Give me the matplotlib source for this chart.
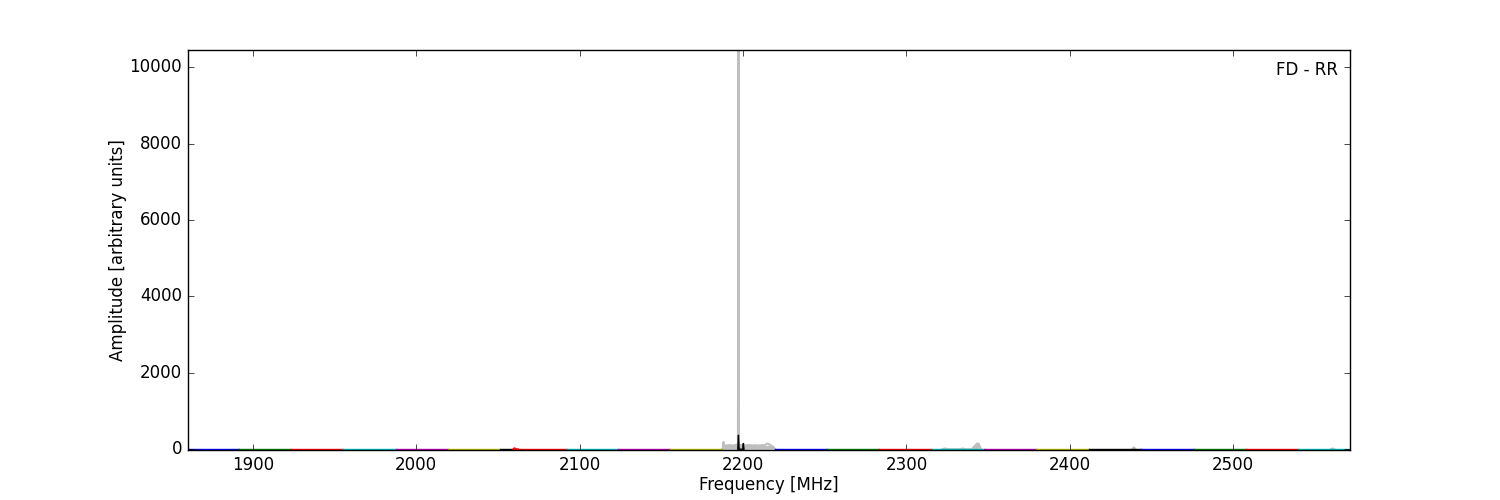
import matplotlib
matplotlib.use("Agg")
import matplotlib.pyplot as plt

plt.style.use("classic")

# Band edges (MHz) and colours of the individual sub-band spectra
band_edges = [1859.8, 1891.4, 1923.5, 1955.1, 1987.4, 2019.5, 2051.2, 2059.3,
              2092.0, 2123.7, 2155.3, 2187.0, 2219.7, 2251.3, 2283.0, 2315.7,
              2347.3, 2379.6, 2411.6, 2443.3, 2476.0, 2507.7, 2539.7, 2571.3]
band_colors = ["b", "g", "r", "c", "m", "y", "k", "r", "c", "m", "y", "k",
               "b", "g", "r", "c", "m", "y", "k", "b", "g", "r", "c"]

# Approximate baseline amplitude per band (read as ~flat near zero)
band_levels = [3, 3, 4, 3, 3, 4, 3, 5, 3, 3, 4, 0, 3, 3, 4, 3, 3, 4, 3, 3, 3, 4, 3]

# Spikes in the 2187-2220 MHz (black) band
k_spike_freq = [2196.8, 2197.2, 2197.6, 2199.8, 2200.2, 2200.6]
k_spike_amp = [0, 366, 0, 0, 150, 0]

# Small red bump near start of red band
r_bump_freq = [2059.3, 2059.8, 2060.3, 2061.0, 2062.5]
r_bump_amp = [3, 25, 35, 10, 3]

# Grey (raw) spectrum features
gray_freq = [2187.0, 2187.6, 2188.0, 2188.4, 2189.0, 2190.5, 2192.0, 2193.5,
             2195.0, 2196.5, 2196.9, 2197.2, 2197.5, 2198.0, 2199.0, 2200.5,
             2202.0, 2203.5, 2205.5, 2207.5, 2209.5, 2211.5, 2213.0, 2214.2,
             2215.2, 2216.2, 2217.2, 2218.5, 2219.7]
gray_amp = [0, 20, 190, 60, 95, 100, 110, 95,
            105, 120, 160, 11000, 150, 110, 100, 125,
            95, 110, 100, 105, 95, 110, 100, 130,
            150, 120, 100, 60, 0]

gray2_freq = [2322.0, 2323.5, 2325.0, 2333.0, 2334.5, 2336.0, 2340.0, 2341.2,
              2342.2, 2343.3, 2344.3, 2345.0, 2345.8]
gray2_amp = [0, 20, 0, 0, 20, 0, 0, 60, 100, 150, 140, 60, 0]

gray3_freq = [2438.2, 2439.2, 2440.2]
gray3_amp = [0, 50, 0]

gray4_freq = [2559.8, 2560.8, 2561.8]
gray4_amp = [0, 20, 0]

fig = plt.figure(figsize=(15, 5), dpi=100)
ax = fig.add_subplot(111)

gray_col = "#bebebe"
ax.fill_between(gray_freq, 0, [min(a, 100) for a in gray_amp],
                color=gray_col, lw=0, zorder=1)
for fr, am in [(gray_freq, gray_amp), (gray2_freq, gray2_amp),
               (gray3_freq, gray3_amp), (gray4_freq, gray4_amp)]:
    ax.plot(fr, am, color=gray_col, lw=1.5, zorder=1)
ax.fill_between(gray2_freq, 0, gray2_amp, color=gray_col, lw=0, zorder=1)

for i, c in enumerate(band_colors):
    if i == 11:
        continue
    f0, f1 = band_edges[i], band_edges[i + 1]
    lvl = band_levels[i]
    ax.plot([f0, f1], [lvl, lvl], color=c, lw=1.0, zorder=2)

ax.plot(r_bump_freq, r_bump_amp, color="r", lw=1.0, zorder=2)
ax.plot(k_spike_freq, k_spike_amp, color="k", lw=1.0, zorder=3)

ax.set_xlim(1860.0, 2571.5)
ax.set_ylim(-20, 10450)
ax.set_xlabel("Frequency [MHz]", labelpad=1.5)
ax.set_ylabel("Amplitude [arbitrary units]", labelpad=2)
ax.text(0.990, 0.95, "FD - RR", ha="right", va="center", transform=ax.transAxes)

fig.savefig("out.png", dpi=100)
